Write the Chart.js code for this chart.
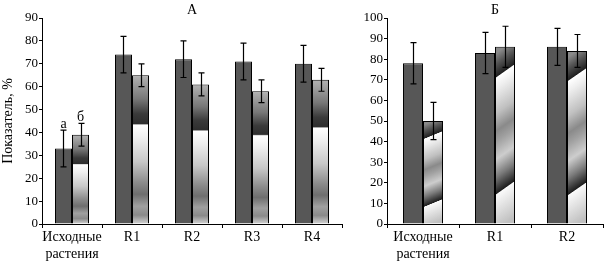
<!DOCTYPE html>
<html>
<head>
<meta charset="utf-8">
<script src="https://cdn.jsdelivr.net/npm/chart.js@4"></script>
<style>
  html, body { margin: 0; padding: 0; background: #fff; }
  #wrap { position: relative; width: 616px; height: 267px; }
  #chartA { position: absolute; left: 0; top: 0; }
  #chartB { position: absolute; left: 345px; top: 0; }
</style>
</head>
<body>
<div id="wrap">
  <canvas id="chartA" width="345" height="267"></canvas>
  <canvas id="chartB" width="271" height="267"></canvas>
</div>
<script>
// panel A
const categoriesA = [['Исходные', 'растения'], 'R1', 'R2', 'R3', 'R4'];
const darkA = [33, 74, 72, 71, 70];
const darkErrA = [8, 8, 8, 8, 8];
const lightA = [39, 65, 61, 58, 63];
const lightErrA = [5, 5, 5, 5, 5];
const ticksA = [0, 10, 20, 30, 40, 50, 60, 70, 80, 90];

// panel B
const categoriesB = [['Исходные', 'растения'], 'R1', 'R2'];
const darkB = [78, 83, 86];
const darkErrB = [10, 10, 9];
const lightB = [50, 86, 84];
const lightErrB = [9, 10, 8];
const ticksB = [0, 10, 20, 30, 40, 50, 60, 70, 80, 90, 100];

const SERIF = "'Liberation Serif', 'Times New Roman', serif";
const DARK = '#575757';

// gradient stops, fraction of bar height from the bottom
const stopsA = [
    [0, '#d4d4d4'], [0.06, '#8a8a8a'], [0.12, '#a0a0a0'], [0.2, '#6e6e6e'],
    [0.28, '#8c8c8c'], [0.42, '#c8c8c8'], [0.58, '#efefef'], [0.665, '#ffffff'],
    [0.675, '#2e2e2e'], [0.74, '#3a3a3a'], [0.84, '#777777'], [1, '#b4b4b4']
];
const stopsB = [
    [0, '#c0c0c0'], [0.2, '#fafafa'], [0.206, '#1e1e1e'], [0.3, '#7a7a7a'],
    [0.4, '#cdcdcd'], [0.5, '#a0a0a0'], [0.56, '#8a8a8a'], [0.66, '#c0c0c0'],
    [0.8, '#eeeeee'], [0.86, '#ffffff'], [0.866, '#202020'], [0.94, '#555555'], [1, '#8a8a8a']
];

// build a gradient for the right bar of a group, tilted by `slant`
function barGradient(context, stops, slant) {
    const chart = context.chart;
    if (!chart.chartArea) return '#aaa';
    const xs = chart.scales.x, ys = chart.scales.y;
    const n = chart.data.labels.length;
    const catW = xs.width / n;
    const barW = catW * chart.options.datasets.bar.categoryPercentage / 2;
    const left = xs.getPixelForValue(context.dataIndex);
    const base = ys.getPixelForValue(0);
    const top = ys.getPixelForValue(context.raw);
    const H = Math.max(base - top, 1), W = barW;
    // f = v - slant*(u - 0.5), grad = (-slant/W, -1/H)
    const gx = -slant / W, gy = -1 / H;
    const g2 = gx * gx + gy * gy;
    const x0 = left + W / 2, y0 = base;
    const grad = chart.ctx.createLinearGradient(x0, y0, x0 + gx / g2, y0 + gy / g2);
    stops.forEach(s => grad.addColorStop(s[0], s[1]));
    return grad;
}

const errorBars = {
    id: 'errorBars',
    afterDatasetsDraw(chart, args, opts) {
        const ctx = chart.ctx, ys = chart.scales.y;
        ctx.save();
        ctx.strokeStyle = '#000';
        ctx.lineWidth = 1.2;
        chart.data.datasets.forEach((ds, i) => {
            const meta = chart.getDatasetMeta(i);
            meta.data.forEach((bar, j) => {
                const v = ds.data[j], e = ds.errors[j];
                const x = Math.round(bar.x) + 0.5;
                const y1 = ys.getPixelForValue(v + e), y2 = ys.getPixelForValue(v - e);
                ctx.beginPath();
                ctx.moveTo(x, y1); ctx.lineTo(x, y2);
                ctx.moveTo(x - 3, y1); ctx.lineTo(x + 3, y1);
                ctx.moveTo(x - 3, y2); ctx.lineTo(x + 3, y2);
                ctx.stroke();
            });
        });
        ctx.restore();
    }
};

const panelText = {
    id: 'panelText',
    afterDraw(chart, args, opts) {
        const ctx = chart.ctx, area = chart.chartArea, ys = chart.scales.y;
        ctx.save();
        ctx.fillStyle = '#000';
        ctx.font = '14px ' + SERIF;
        ctx.textAlign = 'center';
        ctx.textBaseline = 'middle';
        ctx.fillText(opts.title, (area.left + area.right) / 2, 10);
        (opts.marks || []).forEach(m => {
            const ds = chart.data.datasets[m.dataset];
            const bar = chart.getDatasetMeta(m.dataset).data[m.index];
            const y = ys.getPixelForValue(ds.data[m.index] + ds.errors[m.index]);
            ctx.fillText(m.text, bar.x, y - 6);
        });
        ctx.restore();
    }
};

function makeChart(id, labels, dark, darkErr, light, lightErr, ticks, stops, slant, catPct, title, marks, showTitle) {
    return new Chart(document.getElementById(id), {
        type: 'bar',
        data: {
            labels: labels,
            datasets: [{
                data: dark,
                errors: darkErr,
                backgroundColor: DARK,
                borderColor: '#000',
                borderWidth: 1
            }, {
                data: light,
                errors: lightErr,
                backgroundColor: ctx => barGradient(ctx, stops, slant),
                borderColor: '#000',
                borderWidth: 1
            }]
        },
        options: {
            responsive: false,
            devicePixelRatio: 1,
            animation: false,
            datasets: { bar: { categoryPercentage: catPct, barPercentage: 1 } },
            layout: { padding: { top: 18, right: id === 'chartA' ? 3 : 13, left: 0, bottom: 0 } },
            plugins: {
                legend: { display: false },
                tooltip: { enabled: false },
                panelText: { title: title, marks: marks }
            },
            scales: {
                x: {
                    border: { color: '#000', width: 1 },
                    grid: { drawOnChartArea: false, color: '#000', tickLength: 4, offset: true },
                    ticks: { color: '#000', font: { family: SERIF, size: 14 }, padding: 1, maxRotation: 0, autoSkip: false },
                    afterFit: s => { s.height = 43; }
                },
                y: {
                    min: 0,
                    max: ticks[ticks.length - 1],
                    afterBuildTicks: s => { s.ticks = ticks.map(v => ({ value: v })); },
                    border: { color: '#000', width: 1 },
                    grid: { drawOnChartArea: false, color: '#000', tickLength: 3 },
                    ticks: { color: '#000', font: { family: SERIF, size: 13 }, padding: 1 },
                    title: {
                        display: showTitle,
                        text: 'Показатель, %',
                        color: '#000',
                        font: { family: SERIF, size: 14 },
                        padding: 0
                    },
                    afterFit: s => { s.width = 42; }
                }
            }
        },
        plugins: [errorBars, panelText]
    });
}

function drawAll() {
    makeChart('chartA', categoriesA, darkA, darkErrA, lightA, lightErrA, ticksA, stopsA, 0, 0.567, 'А',
        [{ dataset: 0, index: 0, text: 'а' }, { dataset: 1, index: 0, text: 'б' }], true);
    makeChart('chartB', categoriesB, darkB, darkErrB, lightB, lightErrB, ticksB, stopsB, 0.08, 0.556, 'Б', [], false);
}

// make sure the serif face is ready before the canvas text is drawn
Promise.all([
    document.fonts.load("14px 'Liberation Serif'", 'Исходные R1'),
    document.fonts.load("13px 'Liberation Serif'", '0123456789')
]).then(drawAll, drawAll);
</script>
</body>
</html>
